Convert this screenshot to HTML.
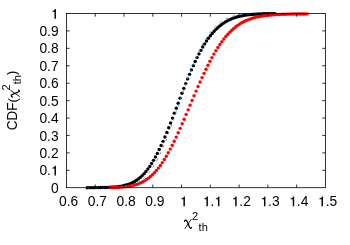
<!DOCTYPE html>
<html><head><meta charset="utf-8"><title>CDF</title>
<style>
html,body{margin:0;padding:0;background:#fff;}
svg{display:block;will-change:transform;font-family:"Liberation Sans",sans-serif;font-size:13.8px;fill:#000;}
</style></head>
<body>
<svg width="350" height="245" viewBox="0 0 350 245">
<rect width="350" height="245" fill="#fff"/>
<g fill="#000"><circle cx="87.30" cy="187.68" r="1.7"/><circle cx="89.19" cy="187.67" r="1.7"/><circle cx="91.09" cy="187.66" r="1.7"/><circle cx="92.98" cy="187.65" r="1.7"/><circle cx="94.87" cy="187.64" r="1.7"/><circle cx="96.77" cy="187.62" r="1.7"/><circle cx="98.66" cy="187.60" r="1.7"/><circle cx="100.55" cy="187.57" r="1.7"/><circle cx="102.44" cy="187.54" r="1.7"/><circle cx="104.34" cy="187.49" r="1.7"/><circle cx="106.23" cy="187.44" r="1.7"/><circle cx="108.12" cy="187.37" r="1.7"/><circle cx="110.02" cy="187.28" r="1.7"/><circle cx="111.91" cy="187.17" r="1.7"/><circle cx="113.80" cy="187.03" r="1.7"/><circle cx="115.69" cy="186.86" r="1.7"/><circle cx="117.59" cy="186.65" r="1.7"/><circle cx="119.48" cy="186.40" r="1.7"/><circle cx="121.37" cy="186.09" r="1.7"/><circle cx="123.27" cy="185.71" r="1.7"/><circle cx="125.16" cy="185.26" r="1.7"/><circle cx="127.05" cy="184.72" r="1.7"/><circle cx="128.95" cy="184.08" r="1.7"/><circle cx="130.84" cy="183.33" r="1.7"/><circle cx="132.73" cy="182.45" r="1.7"/><circle cx="134.62" cy="181.43" r="1.7"/><circle cx="136.52" cy="180.25" r="1.7"/><circle cx="138.41" cy="178.89" r="1.7"/><circle cx="140.30" cy="177.34" r="1.7"/><circle cx="142.20" cy="175.60" r="1.7"/><circle cx="144.09" cy="173.64" r="1.7"/><circle cx="145.98" cy="171.45" r="1.7"/><circle cx="147.88" cy="169.03" r="1.7"/><circle cx="149.77" cy="166.38" r="1.7"/><circle cx="151.66" cy="163.48" r="1.7"/><circle cx="153.56" cy="160.35" r="1.7"/><circle cx="155.45" cy="156.98" r="1.7"/><circle cx="157.34" cy="153.38" r="1.7"/><circle cx="159.23" cy="149.57" r="1.7"/><circle cx="161.13" cy="145.56" r="1.7"/><circle cx="163.02" cy="141.35" r="1.7"/><circle cx="164.91" cy="136.97" r="1.7"/><circle cx="166.81" cy="132.43" r="1.7"/><circle cx="168.70" cy="127.76" r="1.7"/><circle cx="170.59" cy="122.98" r="1.7"/><circle cx="172.49" cy="118.10" r="1.7"/><circle cx="174.38" cy="113.17" r="1.7"/><circle cx="176.27" cy="108.19" r="1.7"/><circle cx="178.16" cy="103.20" r="1.7"/><circle cx="180.06" cy="98.22" r="1.7"/><circle cx="181.95" cy="93.28" r="1.7"/><circle cx="183.84" cy="88.40" r="1.7"/><circle cx="185.74" cy="83.60" r="1.7"/><circle cx="187.63" cy="78.90" r="1.7"/><circle cx="189.52" cy="74.33" r="1.7"/><circle cx="191.41" cy="69.90" r="1.7"/><circle cx="193.31" cy="65.63" r="1.7"/><circle cx="195.20" cy="61.54" r="1.7"/><circle cx="197.09" cy="57.62" r="1.7"/><circle cx="198.99" cy="53.89" r="1.7"/><circle cx="200.88" cy="50.37" r="1.7"/><circle cx="202.77" cy="47.04" r="1.7"/><circle cx="204.67" cy="43.92" r="1.7"/><circle cx="206.56" cy="41.00" r="1.7"/><circle cx="208.45" cy="38.28" r="1.7"/><circle cx="210.34" cy="35.76" r="1.7"/><circle cx="212.24" cy="33.43" r="1.7"/><circle cx="214.13" cy="31.29" r="1.7"/><circle cx="216.02" cy="29.33" r="1.7"/><circle cx="217.92" cy="27.54" r="1.7"/><circle cx="219.81" cy="25.91" r="1.7"/><circle cx="221.70" cy="24.44" r="1.7"/><circle cx="223.60" cy="23.11" r="1.7"/><circle cx="225.49" cy="21.92" r="1.7"/><circle cx="227.38" cy="20.85" r="1.7"/><circle cx="229.27" cy="19.89" r="1.7"/><circle cx="231.17" cy="19.04" r="1.7"/><circle cx="233.06" cy="18.29" r="1.7"/><circle cx="234.95" cy="17.63" r="1.7"/><circle cx="236.85" cy="17.04" r="1.7"/><circle cx="238.74" cy="16.53" r="1.7"/><circle cx="240.63" cy="16.09" r="1.7"/><circle cx="242.53" cy="15.70" r="1.7"/><circle cx="244.42" cy="15.36" r="1.7"/><circle cx="246.31" cy="15.07" r="1.7"/><circle cx="248.20" cy="14.82" r="1.7"/><circle cx="250.10" cy="14.61" r="1.7"/><circle cx="251.99" cy="14.43" r="1.7"/><circle cx="253.88" cy="14.27" r="1.7"/><circle cx="255.78" cy="14.14" r="1.7"/><circle cx="257.67" cy="14.03" r="1.7"/><circle cx="259.56" cy="13.93" r="1.7"/><circle cx="261.46" cy="13.86" r="1.7"/><circle cx="263.35" cy="13.79" r="1.7"/><circle cx="265.24" cy="13.74" r="1.7"/><circle cx="267.13" cy="13.69" r="1.7"/><circle cx="269.03" cy="13.65" r="1.7"/><circle cx="270.92" cy="13.62" r="1.7"/><circle cx="272.81" cy="13.60" r="1.7"/><circle cx="274.71" cy="13.58" r="1.7"/></g>
<g fill="#ff0000"><circle cx="110.70" cy="187.56" r="1.7"/><circle cx="112.69" cy="187.52" r="1.7"/><circle cx="114.67" cy="187.46" r="1.7"/><circle cx="116.66" cy="187.38" r="1.7"/><circle cx="118.64" cy="187.29" r="1.7"/><circle cx="120.62" cy="187.16" r="1.7"/><circle cx="122.61" cy="187.01" r="1.7"/><circle cx="124.59" cy="186.82" r="1.7"/><circle cx="126.58" cy="186.58" r="1.7"/><circle cx="128.56" cy="186.30" r="1.7"/><circle cx="130.55" cy="185.95" r="1.7"/><circle cx="132.53" cy="185.52" r="1.7"/><circle cx="134.52" cy="185.02" r="1.7"/><circle cx="136.50" cy="184.42" r="1.7"/><circle cx="138.49" cy="183.72" r="1.7"/><circle cx="140.47" cy="182.89" r="1.7"/><circle cx="142.46" cy="181.93" r="1.7"/><circle cx="144.44" cy="180.83" r="1.7"/><circle cx="146.43" cy="179.57" r="1.7"/><circle cx="148.42" cy="178.14" r="1.7"/><circle cx="150.40" cy="176.53" r="1.7"/><circle cx="152.38" cy="174.73" r="1.7"/><circle cx="154.37" cy="172.72" r="1.7"/><circle cx="156.36" cy="170.51" r="1.7"/><circle cx="158.34" cy="168.09" r="1.7"/><circle cx="160.32" cy="165.45" r="1.7"/><circle cx="162.31" cy="162.60" r="1.7"/><circle cx="164.30" cy="159.53" r="1.7"/><circle cx="166.28" cy="156.26" r="1.7"/><circle cx="168.27" cy="152.78" r="1.7"/><circle cx="170.25" cy="149.12" r="1.7"/><circle cx="172.24" cy="145.27" r="1.7"/><circle cx="174.22" cy="141.25" r="1.7"/><circle cx="176.21" cy="137.08" r="1.7"/><circle cx="178.19" cy="132.77" r="1.7"/><circle cx="180.18" cy="128.35" r="1.7"/><circle cx="182.16" cy="123.82" r="1.7"/><circle cx="184.15" cy="119.21" r="1.7"/><circle cx="186.13" cy="114.55" r="1.7"/><circle cx="188.12" cy="109.85" r="1.7"/><circle cx="190.10" cy="105.13" r="1.7"/><circle cx="192.09" cy="100.42" r="1.7"/><circle cx="194.07" cy="95.73" r="1.7"/><circle cx="196.06" cy="91.09" r="1.7"/><circle cx="198.04" cy="86.51" r="1.7"/><circle cx="200.03" cy="82.02" r="1.7"/><circle cx="202.01" cy="77.62" r="1.7"/><circle cx="204.00" cy="73.34" r="1.7"/><circle cx="205.98" cy="69.19" r="1.7"/><circle cx="207.97" cy="65.18" r="1.7"/><circle cx="209.95" cy="61.32" r="1.7"/><circle cx="211.94" cy="57.62" r="1.7"/><circle cx="213.92" cy="54.08" r="1.7"/><circle cx="215.91" cy="50.72" r="1.7"/><circle cx="217.89" cy="47.53" r="1.7"/><circle cx="219.88" cy="44.52" r="1.7"/><circle cx="221.86" cy="41.69" r="1.7"/><circle cx="223.85" cy="39.04" r="1.7"/><circle cx="225.83" cy="36.57" r="1.7"/><circle cx="227.81" cy="34.28" r="1.7"/><circle cx="229.80" cy="32.16" r="1.7"/><circle cx="231.79" cy="30.21" r="1.7"/><circle cx="233.77" cy="28.43" r="1.7"/><circle cx="235.75" cy="26.80" r="1.7"/><circle cx="237.74" cy="25.33" r="1.7"/><circle cx="239.73" cy="24.00" r="1.7"/><circle cx="241.71" cy="22.80" r="1.7"/><circle cx="243.69" cy="21.72" r="1.7"/><circle cx="245.68" cy="20.76" r="1.7"/><circle cx="247.67" cy="19.91" r="1.7"/><circle cx="249.65" cy="19.15" r="1.7"/><circle cx="251.63" cy="18.47" r="1.7"/><circle cx="253.62" cy="17.88" r="1.7"/><circle cx="255.61" cy="17.35" r="1.7"/><circle cx="257.59" cy="16.90" r="1.7"/><circle cx="259.57" cy="16.49" r="1.7"/><circle cx="261.56" cy="16.14" r="1.7"/><circle cx="263.55" cy="15.83" r="1.7"/><circle cx="265.53" cy="15.56" r="1.7"/><circle cx="267.51" cy="15.33" r="1.7"/><circle cx="269.50" cy="15.12" r="1.7"/><circle cx="271.49" cy="14.94" r="1.7"/><circle cx="273.47" cy="14.79" r="1.7"/><circle cx="275.45" cy="14.65" r="1.7"/><circle cx="277.44" cy="14.54" r="1.7"/><circle cx="279.43" cy="14.44" r="1.7"/><circle cx="281.41" cy="14.35" r="1.7"/><circle cx="283.40" cy="14.27" r="1.7"/><circle cx="285.38" cy="14.21" r="1.7"/><circle cx="287.37" cy="14.15" r="1.7"/><circle cx="289.35" cy="14.10" r="1.7"/><circle cx="291.34" cy="14.06" r="1.7"/><circle cx="293.32" cy="14.03" r="1.7"/><circle cx="295.31" cy="14.00" r="1.7"/><circle cx="297.29" cy="13.97" r="1.7"/><circle cx="299.28" cy="13.95" r="1.7"/><circle cx="301.26" cy="13.94" r="1.7"/><circle cx="303.25" cy="13.93" r="1.7"/><circle cx="305.23" cy="13.92" r="1.7"/><circle cx="307.22" cy="13.91" r="1.7"/></g>
<path d="M87.30 187.70 L88.04 187.70 L88.77 187.70 L89.51 187.70 L90.24 187.70 L90.98 187.70 L91.71 187.70 L92.45 187.70 L93.18 187.70 L93.92 187.70 L94.65 187.70 L95.39 187.70 L96.13 187.70 L96.86 187.70 L97.60 187.70 L98.33 187.69 L99.07 187.69 L99.80 187.69 L100.54 187.69 L101.27 187.69 L102.01 187.69 L102.74 187.68 L103.48 187.68 L104.22 187.68 L104.95 187.67 L105.69 187.67 L106.42 187.66 L107.16 187.66 L107.89 187.65 L108.63 187.64 L109.36 187.63 L110.10 187.62 L110.83 187.61 L111.57 187.60 L112.31 187.58 L113.04 187.57 L113.78 187.55 L114.51 187.52 L115.25 187.50 L115.98 187.47 L116.72 187.44 L117.45 187.41 L118.19 187.37 L118.92 187.32 L119.66 187.28 L120.40 187.22 L121.13 187.16 L121.87 187.10 L122.60 187.02 L123.34 186.94 L124.07 186.86 L124.81 186.76 L125.54 186.65 L126.28 186.54 L127.01 186.41 L127.75 186.27 L128.49 186.12 L129.22 185.95 L129.96 185.77 L130.69 185.58 L131.43 185.37 L132.16 185.14 L132.90 184.89 L133.63 184.63 L134.37 184.35 L135.10 184.04 L135.84 183.71 L136.58 183.36 L137.31 182.98 L138.05 182.58 L138.78 182.15 L139.52 181.70 L140.25 181.21 L140.99 180.70 L141.72 180.15 L142.46 179.57 L143.19 178.96 L143.93 178.32 L144.67 177.63 L145.40 176.92 L146.14 176.16 L146.87 175.37 L147.61 174.54 L148.34 173.67 L149.08 172.76 L149.81 171.81 L150.55 170.81 L151.28 169.78 L152.02 168.70 L152.76 167.58 L153.49 166.42 L154.23 165.21 L154.96 163.96 L155.70 162.67 L156.43 161.33 L157.17 159.95 L157.90 158.53 L158.64 157.06 L159.37 155.55 L160.11 154.00 L160.85 152.41 L161.58 150.78 L162.32 149.11 L163.05 147.41 L163.79 145.66 L164.52 143.88 L165.26 142.06 L165.99 140.21 L166.73 138.33 L167.46 136.41 L168.20 134.47 L168.94 132.50 L169.67 130.50 L170.41 128.48 L171.14 126.44 L171.88 124.37 L172.61 122.29 L173.35 120.19 L174.08 118.07 L174.82 115.94 L175.55 113.80 L176.29 111.65 L177.03 109.50 L177.76 107.34 L178.50 105.18 L179.23 103.01 L179.97 100.85 L180.70 98.69 L181.44 96.54 L182.17 94.39 L182.91 92.25 L183.64 90.13 L184.38 88.01 L185.12 85.91 L185.85 83.83 L186.59 81.77 L187.32 79.73 L188.06 77.71 L188.79 75.71 L189.53 73.74 L190.26 71.79 L191.00 69.87 L191.73 67.98 L192.47 66.12 L193.21 64.30 L193.94 62.50 L194.68 60.74 L195.41 59.01 L196.15 57.31 L196.88 55.65 L197.62 54.03 L198.35 52.45 L199.09 50.90 L199.82 49.39 L200.56 47.92 L201.29 46.48 L202.03 45.09 L202.77 43.73 L203.50 42.41 L204.24 41.13 L204.97 39.89 L205.71 38.69 L206.44 37.52 L207.18 36.40 L207.91 35.31 L208.65 34.26 L209.38 33.24 L210.12 32.26 L210.86 31.32 L211.59 30.41 L212.33 29.54 L213.06 28.70 L213.80 27.89 L214.53 27.12 L215.27 26.38 L216.00 25.67 L216.74 24.99 L217.47 24.35 L218.21 23.73 L218.95 23.13 L219.68 22.57 L220.42 22.03 L221.15 21.52 L221.89 21.03 L222.62 20.57 L223.36 20.13 L224.09 19.71 L224.83 19.32 L225.56 18.94 L226.30 18.59 L227.04 18.25 L227.77 17.94 L228.51 17.64 L229.24 17.36 L229.98 17.09 L230.71 16.84 L231.45 16.61 L232.18 16.39 L232.92 16.18 L233.65 15.98 L234.39 15.80 L235.13 15.63 L235.86 15.47 L236.60 15.32 L237.33 15.18 L238.07 15.05 L238.80 14.93 L239.54 14.82 L240.27 14.71 L241.01 14.61 L241.74 14.52 L242.48 14.44 L243.22 14.36 L243.95 14.29 L244.69 14.22 L245.42 14.16 L246.16 14.10 L246.89 14.05 L247.63 14.00 L248.36 13.96 L249.10 13.92 L249.83 13.88 L250.57 13.84 L251.31 13.81 L252.04 13.78 L252.78 13.76 L253.51 13.73 L254.25 13.71 L254.98 13.69 L255.72 13.67 L256.45 13.65 L257.19 13.64 L257.92 13.62 L258.66 13.61 L259.40 13.60 L260.13 13.59 L260.87 13.58 L261.60 13.57 L262.34 13.56 L263.07 13.56 L263.81 13.55 L264.54 13.55 L265.28 13.54 L266.01 13.54 L266.75 13.53 L267.49 13.53 L268.22 13.52 L268.96 13.52 L269.69 13.52 L270.43 13.52 L271.16 13.52 L271.90 13.51 L272.63 13.51 L273.37 13.51 L274.10 13.51 L274.84 13.51 L275.58 13.51 L276.31 13.51 L277.05 13.51 L277.78 13.50 L278.52 13.50 L279.25 13.50 L279.99 13.50 L280.72 13.50 L281.46 13.50 L282.19 13.50 L282.93 13.50 L283.67 13.50 L284.40 13.50 L285.14 13.50 L285.87 13.50 L286.61 13.50 L287.34 13.50 L288.08 13.50 L288.81 13.50 L289.55 13.50 L290.28 13.50 L291.02 13.50 L291.76 13.50 L292.49 13.50 L293.23 13.50 L293.96 13.50 L294.70 13.50 L295.43 13.50 L296.17 13.50 L296.90 13.50 L297.64 13.50 L298.37 13.50 L299.11 13.50 L299.85 13.50 L300.58 13.50 L301.32 13.50 L302.05 13.50 L302.79 13.50 L303.52 13.50 L304.26 13.50 L304.99 13.50 L305.73 13.50 L306.46 13.50 L307.20 13.50" fill="none" stroke="#2f9ae6" stroke-width="1" stroke-dasharray="2.6 4.7"/>
<g stroke="#000" stroke-width="0.8" fill="none">
<rect x="66.5" y="13.5" width="258.9" height="174.2"/>
<path d="M95.27 187.70 v-3.2 M95.27 13.50 v3.2"/><path d="M124.03 187.70 v-3.2 M124.03 13.50 v3.2"/><path d="M152.80 187.70 v-3.2 M152.80 13.50 v3.2"/><path d="M181.57 187.70 v-3.2 M181.57 13.50 v3.2"/><path d="M210.33 187.70 v-3.2 M210.33 13.50 v3.2"/><path d="M239.10 187.70 v-3.2 M239.10 13.50 v3.2"/><path d="M267.87 187.70 v-3.2 M267.87 13.50 v3.2"/><path d="M296.63 187.70 v-3.2 M296.63 13.50 v3.2"/><path d="M66.50 170.28 h3.2 M325.40 170.28 h-3.2"/><path d="M66.50 152.86 h3.2 M325.40 152.86 h-3.2"/><path d="M66.50 135.44 h3.2 M325.40 135.44 h-3.2"/><path d="M66.50 118.02 h3.2 M325.40 118.02 h-3.2"/><path d="M66.50 100.60 h3.2 M325.40 100.60 h-3.2"/><path d="M66.50 83.18 h3.2 M325.40 83.18 h-3.2"/><path d="M66.50 65.76 h3.2 M325.40 65.76 h-3.2"/><path d="M66.50 48.34 h3.2 M325.40 48.34 h-3.2"/><path d="M66.50 30.92 h3.2 M325.40 30.92 h-3.2"/>
</g>
<g><text x="50.93" y="192.85">0</text><text x="39.42" y="175.43">0.</text><path transform="translate(50.93,175.43) scale(13.800,-13.800)" d="M0.362,0 L0.257,0 L0.257,0.50 L0.10,0.50 L0.10,0.562 C0.19,0.566 0.265,0.61 0.297,0.703 L0.362,0.703 Z"/><text x="39.42" y="158.01">0.2</text><text x="39.42" y="140.59">0.3</text><text x="39.42" y="123.17">0.4</text><text x="39.42" y="105.75">0.5</text><text x="39.42" y="88.33">0.6</text><text x="39.42" y="70.91">0.7</text><text x="39.42" y="53.49">0.8</text><text x="39.42" y="36.07">0.9</text><path transform="translate(50.93,18.65) scale(13.800,-13.800)" d="M0.362,0 L0.257,0 L0.257,0.50 L0.10,0.50 L0.10,0.562 C0.19,0.566 0.265,0.61 0.297,0.703 L0.362,0.703 Z"/></g>
<g><text x="59.06" y="206.20">0.6</text><text x="87.82" y="206.20">0.7</text><text x="116.59" y="206.20">0.8</text><text x="145.36" y="206.20">0.9</text><path transform="translate(179.88,206.20) scale(13.800,-13.800)" d="M0.362,0 L0.257,0 L0.257,0.50 L0.10,0.50 L0.10,0.562 C0.19,0.566 0.265,0.61 0.297,0.703 L0.362,0.703 Z"/><path transform="translate(202.89,206.20) scale(13.800,-13.800)" d="M0.362,0 L0.257,0 L0.257,0.50 L0.10,0.50 L0.10,0.562 C0.19,0.566 0.265,0.61 0.297,0.703 L0.362,0.703 Z"/><text x="210.57" y="206.20">.</text><path transform="translate(214.40,206.20) scale(13.800,-13.800)" d="M0.362,0 L0.257,0 L0.257,0.50 L0.10,0.50 L0.10,0.562 C0.19,0.566 0.265,0.61 0.297,0.703 L0.362,0.703 Z"/><path transform="translate(231.66,206.20) scale(13.800,-13.800)" d="M0.362,0 L0.257,0 L0.257,0.50 L0.10,0.50 L0.10,0.562 C0.19,0.566 0.265,0.61 0.297,0.703 L0.362,0.703 Z"/><text x="239.33" y="206.20">.2</text><path transform="translate(260.42,206.20) scale(13.800,-13.800)" d="M0.362,0 L0.257,0 L0.257,0.50 L0.10,0.50 L0.10,0.562 C0.19,0.566 0.265,0.61 0.297,0.703 L0.362,0.703 Z"/><text x="268.10" y="206.20">.3</text><path transform="translate(289.19,206.20) scale(13.800,-13.800)" d="M0.362,0 L0.257,0 L0.257,0.50 L0.10,0.50 L0.10,0.562 C0.19,0.566 0.265,0.61 0.297,0.703 L0.362,0.703 Z"/><text x="296.87" y="206.20">.4</text><path transform="translate(317.96,206.20) scale(13.800,-13.800)" d="M0.362,0 L0.257,0 L0.257,0.50 L0.10,0.50 L0.10,0.562 C0.19,0.566 0.265,0.61 0.297,0.703 L0.362,0.703 Z"/><text x="325.63" y="206.20">.5</text></g>
<text transform="translate(16.90,130.20) rotate(-90) scale(1.000,1.070)" font-family="Liberation Sans" font-size="13.5">CDF</text><text transform="translate(16.90,102.60) rotate(-90) scale(1.000,1.050)" font-family="Liberation Sans" font-size="13">(</text><g transform="translate(16.9,97.1) rotate(-90)" fill="none" stroke="#000" stroke-linecap="round" stroke-linejoin="round"><path d="M0.1,-4.4 C0.4,-5.8 1.8,-6.2 2.5,-4.9 L5.1,1.3 C5.7,2.8 6.7,2.8 7.1,1.7" stroke-width="1.25"/><path d="M6.7,-6.3 L0.7,2.6" stroke-width="0.9"/></g><text transform="translate(10.10,90.40) rotate(-90) scale(1.000,1.000)" font-family="Liberation Sans" font-size="11">2</text><text transform="translate(21.20,84.30) rotate(-90) scale(1.000,1.000)" font-family="Liberation Sans" font-size="11">th</text><text transform="translate(16.40,74.90) rotate(-90) scale(1.000,1.050)" font-family="Liberation Sans" font-size="13">)</text>
<g transform="translate(184.4,225.8)" fill="none" stroke="#000" stroke-linecap="round" stroke-linejoin="round"><path d="M0.1,-4.4 C0.4,-5.8 1.8,-6.2 2.5,-4.9 L5.1,1.3 C5.7,2.8 6.7,2.8 7.1,1.7" stroke-width="1.25"/><path d="M6.7,-6.3 L0.7,2.6" stroke-width="0.9"/></g><text transform="translate(192.00,219.70) scale(1.000,1.000)" font-family="Liberation Sans" font-size="11">2</text><text transform="translate(198.60,230.70) scale(1.000,1.000)" font-family="Liberation Sans" font-size="11">th</text>
</svg>
</body></html>
